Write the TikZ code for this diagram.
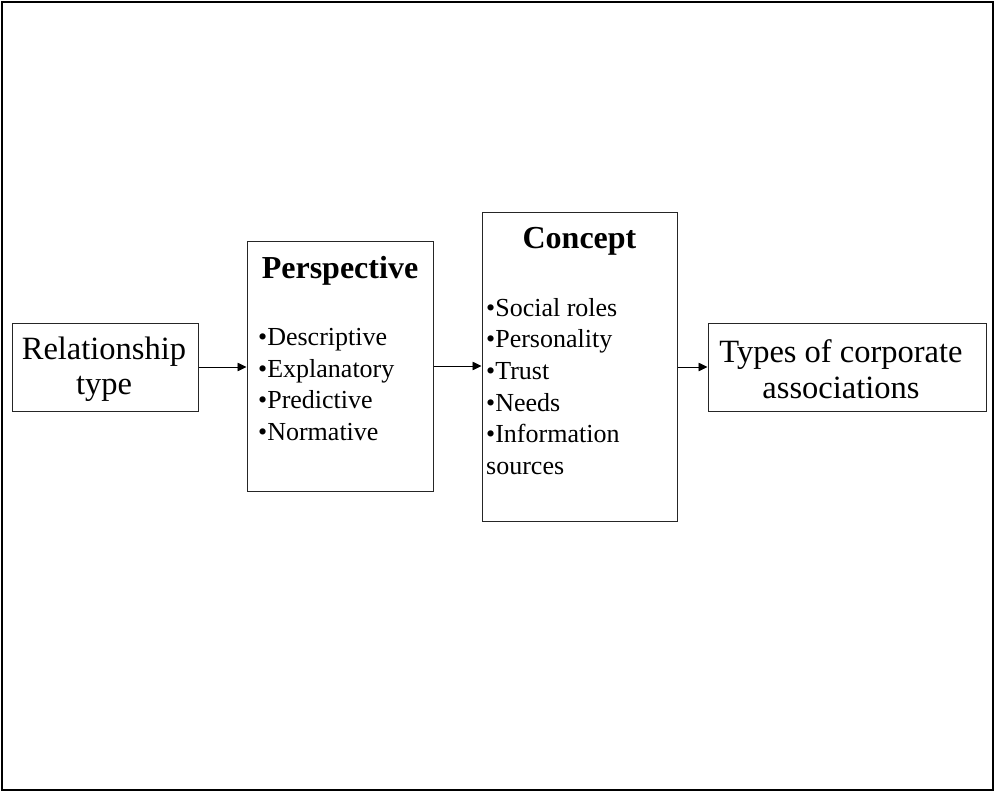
\documentclass[tikz,border=0pt]{standalone}
\usepackage{fontspec}
\setmainfont{Liberation Serif}
\usetikzlibrary{arrows.meta}
\begin{document}
\begin{tikzpicture}[x=1pt,y=-1pt,
  frame/.style={draw=black,line width=2.5pt},
  box/.style={draw=black!85,line width=1pt,inner sep=0pt},
  big/.style={font=\fontsize{32.5}{35.5}\selectfont,align=center,inner sep=0pt},
  title/.style={font=\bfseries\fontsize{32}{34}\selectfont,inner sep=0pt},
  list/.style={font=\fontsize{26}{31.6}\selectfont,align=left,anchor=north west,inner sep=0pt},
  conn/.style={-{Triangle[length=9pt,width=8.5pt]},line width=0.8pt}]
\useasboundingbox (0,0) rectangle (995,792);
\draw[frame] (2,2) rectangle (993,790);
% boxes
\node[box,minimum width=186pt,minimum height=88pt] (rel) at (105,367) {};
\node[box,minimum width=186pt,minimum height=250pt] (per) at (340,366) {};
\node[box,minimum width=195pt,minimum height=309pt] (con) at (579.5,366.5) {};
\node[box,minimum width=278pt,minimum height=88pt] (typ) at (847,367) {};
% texts
\node[big] (reltext) at (104,369) {Relationship\\type};
\node[big] (typtext) at (841,369) {Types of corporate\\associations};
\node[title] (pertitle) at (340,271) {Perspective};
\node[list] (perlist) at (258,328) {•Descriptive\\•Explanatory\\•Predictive\\•Normative};
\node[title] (contitle) at (579.5,241) {Concept};
\node[list] (conlist) at (486,298) {•Social roles\\•Personality\\•Trust\\•Needs\\•Information\\sources};
% connectors
\draw[conn] (rel.east) -- (rel.east -| per.west);
\draw[conn] (per.east) -- (per.east -| con.west);
\draw[conn] (con.east |- typ.west) -- (typ.west);
\end{tikzpicture}
\end{document}
